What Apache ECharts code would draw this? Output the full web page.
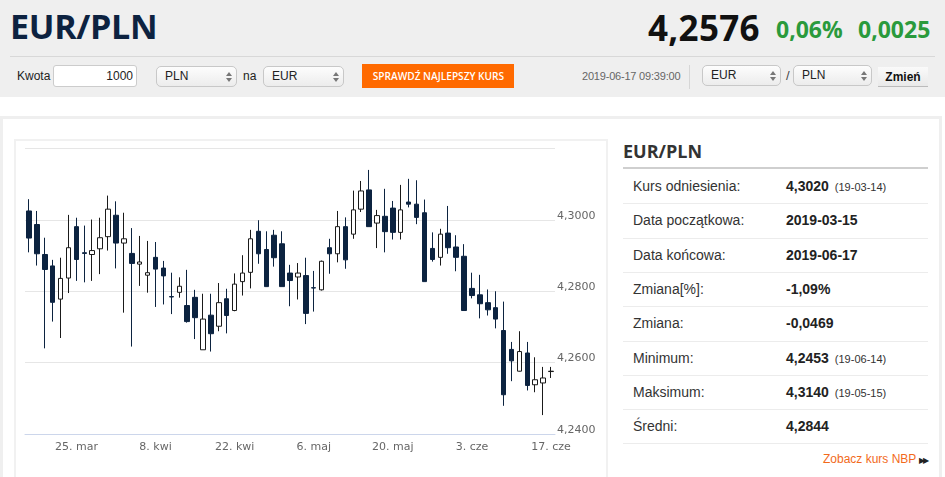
<!DOCTYPE html>
<html>
<head>
<meta charset="utf-8">
<script src="https://cdn.jsdelivr.net/npm/echarts@6/dist/echarts.min.js"></script>
<style>
  body { margin: 0; width: 945px; height: 477px; overflow: hidden; background: #fff; font-family: "Liberation Sans", Arial, sans-serif; position: relative; }
  .abs { position: absolute; }
  .head { left: 0; top: 0; width: 945px; height: 97px; background: #efefef; }
  .big { font-family: "Open Sans", sans-serif; font-weight: 700; white-space: nowrap; }
  .sel { position: absolute; height: 21px; box-sizing: border-box; border: 1px solid #c8c8c8; border-radius: 5px;
         background: linear-gradient(#fdfdfd, #ececec); font-size: 12px; line-height: 19px; padding-left: 8px; color: #222; }
  .sel .arr { position: absolute; right: 7px; top: 5px; width: 0; height: 0; }
  .sel .arr:before { content: ""; position: absolute; left: -3px; top: 0; border-left: 3px solid transparent; border-right: 3px solid transparent; border-bottom: 4px solid #777; }
  .sel .arr:after { content: ""; position: absolute; left: -3px; top: 6px; border-left: 3px solid transparent; border-right: 3px solid transparent; border-top: 4px solid #777; }
  .lbl { position: absolute; left: 633px; font-size: 14px; color: #333; }
  .val { position: absolute; left: 786px; font-size: 14px; font-weight: bold; color: #222; }
  .val small { font-size: 11px; font-weight: normal; margin-left: 6px; color: #333; }
  .sep { position: absolute; left: 623px; width: 305px; height: 1px; background: #ececec; }
</style>
</head>
<body>
<div class="abs head"></div>
<div class="abs big" style="left:10px;top:9px;font-size:34px;line-height:34px;color:#0d2240;letter-spacing:-0.3px;">EUR/PLN</div>
<div class="abs big" style="left:648px;top:10px;font-size:35px;line-height:35px;color:#111;letter-spacing:0.3px;">4,2576</div>
<div class="abs big" style="left:776px;top:18px;font-size:23px;line-height:23px;color:#2a9a3c;">0,06%</div>
<div class="abs big" style="left:858px;top:18px;font-size:23px;line-height:23px;color:#2a9a3c;">0,0025</div>
<div class="abs" style="left:10px;top:56px;width:925px;height:1px;background:#d8d8d8;"></div>

<div class="abs" style="left:17px;top:69px;font-size:12px;color:#222;">Kwota</div>
<div class="abs" style="left:53px;top:65px;width:84px;height:22px;box-sizing:border-box;border:1px solid #ccc;border-radius:3px;background:#fff;font-size:12px;line-height:20px;text-align:right;padding-right:3px;color:#222;">1000</div>
<div class="sel" style="left:156px;top:66px;width:81px;">PLN<span class="arr"></span></div>
<div class="abs" style="left:243px;top:69px;font-size:12px;color:#222;">na</div>
<div class="sel" style="left:263px;top:66px;width:81px;">EUR<span class="arr"></span></div>
<div class="abs" style="left:362px;top:64px;width:152px;height:24px;background:#ff6a00;color:#fff;font-family:'Open Sans',sans-serif;font-weight:600;font-size:11px;line-height:24px;text-align:center;white-space:nowrap;"><span style="display:inline-block;transform:scaleX(0.92);">SPRAWDŹ NAJLEPSZY KURS</span></div>
<div class="abs" style="left:582px;top:70px;font-size:11px;color:#666;white-space:nowrap;letter-spacing:-0.2px;">2019-06-17 09:39:00</div>
<div class="abs" style="left:689px;top:65px;width:1px;height:24px;background:#d6d6d6;"></div>
<div class="sel" style="left:702px;top:65px;width:79px;">EUR<span class="arr"></span></div>
<div class="abs" style="left:786px;top:68px;font-size:13px;color:#444;">/</div>
<div class="sel" style="left:793px;top:65px;width:79px;">PLN<span class="arr"></span></div>
<div class="abs" style="left:878px;top:67px;width:50px;height:20px;box-sizing:border-box;background:linear-gradient(#fafafa,#e9e9e9);border-bottom:1px solid #bbb;font-size:12px;font-weight:bold;line-height:20px;text-align:center;color:#111;">Zmień</div>

<div class="abs" style="left:0;top:116px;width:942px;height:380px;box-sizing:border-box;border:3px solid #efefef;"></div>
<div class="abs" style="left:14px;top:139px;width:594px;height:360px;box-sizing:border-box;border:2px solid #f1f1f1;"></div>
<div id="chart" class="abs" style="left:16px;top:141px;width:591px;height:336px;"></div>

<div class="abs" style="left:623px;top:139px;font-family:'Open Sans',sans-serif;font-weight:700;font-size:18px;line-height:24px;color:#333;">EUR/PLN</div>
<div class="abs" style="left:623px;top:167px;width:305px;height:2px;background:#cfcfcf;"></div>
<div id="table"></div>
<div class="abs" style="left:823px;top:452px;font-size:12px;color:#f26a1b;white-space:nowrap;">Zobacz kurs NBP <span style="color:#222;font-size:8px;letter-spacing:-2px;">▶▶</span></div>

<script>
// dzienne świece EUR/PLN
var dates = [
  '2019-03-15',
  '2019-03-18', '2019-03-19', '2019-03-20', '2019-03-21', '2019-03-22',
  '2019-03-25', '2019-03-26', '2019-03-27', '2019-03-28', '2019-03-29',
  '2019-04-01', '2019-04-02', '2019-04-03', '2019-04-04', '2019-04-05',
  '2019-04-08', '2019-04-09', '2019-04-10', '2019-04-11', '2019-04-12',
  '2019-04-15', '2019-04-16', '2019-04-17', '2019-04-18', '2019-04-19',
  '2019-04-22', '2019-04-23', '2019-04-24', '2019-04-25', '2019-04-26',
  '2019-04-29', '2019-04-30', '2019-05-01', '2019-05-02', '2019-05-03',
  '2019-05-06', '2019-05-07', '2019-05-08', '2019-05-09', '2019-05-10',
  '2019-05-13', '2019-05-14', '2019-05-15', '2019-05-16', '2019-05-17',
  '2019-05-20', '2019-05-21', '2019-05-22', '2019-05-23', '2019-05-24',
  '2019-05-27', '2019-05-28', '2019-05-29', '2019-05-30', '2019-05-31',
  '2019-06-03', '2019-06-04', '2019-06-05', '2019-06-06', '2019-06-07',
  '2019-06-10', '2019-06-11', '2019-06-12', '2019-06-13', '2019-06-14',
  '2019-06-17'
];

var opens = [
  4.3025, 4.2987, 4.2903, 4.2871, 4.2778, 4.2837, 4.2981, 4.2908, 4.2903, 4.2919,
  4.2953, 4.3013, 4.2935, 4.2906, 4.2876, 4.2845, 4.2895, 4.2865, 4.2785, 4.2797,
  4.2760, 4.2783, 4.2636, 4.2733, 4.2702, 4.2779, 4.2746, 4.2827, 4.2853, 4.2968,
  4.2917, 4.2957, 4.2933, 4.2851, 4.2840, 4.2844, 4.2810, 4.2804, 4.2922, 4.2905,
  4.2981, 4.2960, 4.3030, 4.3084, 4.2991, 4.3010, 4.3033, 4.2965, 4.3050, 4.3044,
  4.3020, 4.2920, 4.2895, 4.2963, 4.2924, 4.2898, 4.2808, 4.2790, 4.2768, 4.2754,
  4.2690, 4.2637, 4.2576, 4.2627, 4.2538, 4.2543, 4.2575
];
var closes = [
  4.2949, 4.2905, 4.2861, 4.2769, 4.2836, 4.2922, 4.2889, 4.2906, 4.2914, 4.2950,
  4.3030, 4.2935, 4.2947, 4.2878, 4.2882, 4.2852, 4.2862, 4.2843, 4.2784, 4.2814,
  4.2715, 4.2726, 4.2722, 4.2681, 4.2768, 4.2732, 4.2820, 4.2851, 4.2947, 4.2905,
  4.2813, 4.2894, 4.2813, 4.2830, 4.2851, 4.2738, 4.2809, 4.2884, 4.2905, 4.2981,
  4.2888, 4.3028, 4.3081, 4.2981, 4.3012, 4.2967, 4.2965, 4.3028, 4.3044, 4.3007,
  4.2827, 4.2889, 4.2960, 4.2922, 4.2895, 4.2746, 4.2788, 4.2765, 4.2748, 4.2722,
  4.2510, 4.2605, 4.2631, 4.2536, 4.2552, 4.2557, 4.2576
];
var lows = [
  4.2909, 4.2872, 4.2640, 4.2715, 4.2669, 4.2795, 4.2829, 4.2825, 4.2829, 4.2848,
  4.2914, 4.2864, 4.2740, 4.2645, 4.2815, 4.2796, 4.2756, 4.2763, 4.2736, 4.2782,
  4.2712, 4.2666, 4.2636, 4.2631, 4.2688, 4.2682, 4.2744, 4.2788, 4.2808, 4.2877,
  4.2813, 4.2869, 4.2813, 4.2758, 4.2777, 4.2708, 4.2743, 4.2802, 4.2849, 4.2881,
  4.2863, 4.2947, 4.3022, 4.2981, 4.2921, 4.2909, 4.2945, 4.2945, 4.3035, 4.2988,
  4.2827, 4.2883, 4.2872, 4.2905, 4.2856, 4.2746, 4.2780, 4.2724, 4.2732, 4.2696,
  4.2479, 4.2548, 4.2575, 4.2522, 4.2517, 4.2453, 4.2557
];
var highs = [
  4.3058, 4.3025, 4.2950, 4.2888, 4.2894, 4.3014, 4.3006, 4.2984, 4.3001, 4.3006,
  4.3068, 4.3052, 4.3020, 4.2977, 4.2955, 4.2941, 4.2938, 4.2885, 4.2852, 4.2839,
  4.2860, 4.2804, 4.2793, 4.2793, 4.2823, 4.2807, 4.2850, 4.2901, 4.2972, 4.2999,
  4.2968, 4.2972, 4.2968, 4.2874, 4.2879, 4.2894, 4.2857, 4.2886, 4.2947, 4.3025,
  4.3007, 4.3082, 4.3109, 4.3140, 4.3028, 4.3087, 4.3053, 4.3098, 4.3115, 4.3111,
  4.3057, 4.2965, 4.2975, 4.3039, 4.2957, 4.2932, 4.2852, 4.2846, 4.2805, 4.2800,
  4.2771, 4.2658, 4.2688, 4.2658, 4.2615, 4.2588, 4.2588
];

var tickLabels = {
  '2019-03-25': '25. mar',
  '2019-04-08': '8. kwi',
  '2019-04-22': '22. kwi',
  '2019-05-06': '6. maj',
  '2019-05-20': '20. maj',
  '2019-06-03': '3. cze',
  '2019-06-17': '17. cze'
};

var yMin = 4.24, yMax = 4.32, yStep = 0.02;

var statLabels = ['Kurs odniesienia:', 'Data początkowa:', 'Data końcowa:', 'Zmiana[%]:', 'Zmiana:', 'Minimum:', 'Maksimum:', 'Średni:'];
var statValues = ['4,3020', '2019-03-15', '2019-06-17', '-1,09%', '-0,0469', '4,2453', '4,3140', '4,2844'];
var statDates = ['19-03-14', '', '', '', '', '19-06-14', '19-05-15', ''];

(function () {
  var html = '';
  var rowTop = 169, rowH = 34.3;
  for (var i = 0; i < statLabels.length; i++) {
    var t = Math.round(rowTop + i * rowH);
    html += '<div class="lbl" style="top:' + (t + 9) + 'px">' + statLabels[i] + '</div>';
    html += '<div class="val" style="top:' + (t + 9) + 'px">' + statValues[i] +
      (statDates[i] ? '<small>(' + statDates[i] + ')</small>' : '') + '</div>';
    html += '<div class="sep" style="top:' + Math.round(rowTop + (i + 1) * rowH) + 'px"></div>';
  }
  document.getElementById('table').innerHTML = html;
})();

var chart = echarts.init(document.getElementById('chart'));

var candles = dates.map(function (d, i) {
  return [opens[i], closes[i], lows[i], highs[i]];
});

function isTick(index) {
  return !!tickLabels[dates[index]];
}

chart.setOption({
  animation: false,
  grid: { left: 9, right: 52, top: 7.5, bottom: 43 },
  xAxis: {
    type: 'category',
    data: dates,
    boundaryGap: true,
    axisLine: { lineStyle: { color: '#ccd6eb' } },
    axisTick: {
      alignWithLabel: true,
      length: 7,
      interval: function (index) { return isTick(index); },
      lineStyle: { color: '#ccd6eb' }
    },
    axisLabel: {
      interval: function (index) { return isTick(index); },
      formatter: function (v) { return tickLabels[v] || ''; },
      color: '#666',
      fontFamily: 'DejaVu Sans',
      fontSize: 11,
      margin: 8
    },
    splitLine: { show: false }
  },
  yAxis: {
    type: 'value',
    position: 'right',
    min: yMin,
    max: yMax,
    interval: yStep,
    axisLine: { show: false },
    axisTick: { show: false },
    splitLine: { lineStyle: { color: '#e6e6e6' } },
    axisLabel: {
      margin: 2,
      verticalAlign: 'bottom',
      lineHeight: 12,
      padding: [0, 0, -2, 0],
      color: '#666',
      fontFamily: 'DejaVu Sans',
      fontSize: 11,
      formatter: function (v) {
        if (Math.abs(v - yMax) < 1e-6) return '';
        return v.toFixed(4).replace('.', ',');
      }
    }
  },
  series: [{
    type: 'candlestick',
    data: candles,
    barWidth: 5,
    itemStyle: {
      color: '#ffffff',
      color0: '#0c2340',
      borderColor: '#1a1a1a',
      borderColor0: '#0c2340',
      borderWidth: 1
    }
  }]
});
</script>
</body>
</html>
